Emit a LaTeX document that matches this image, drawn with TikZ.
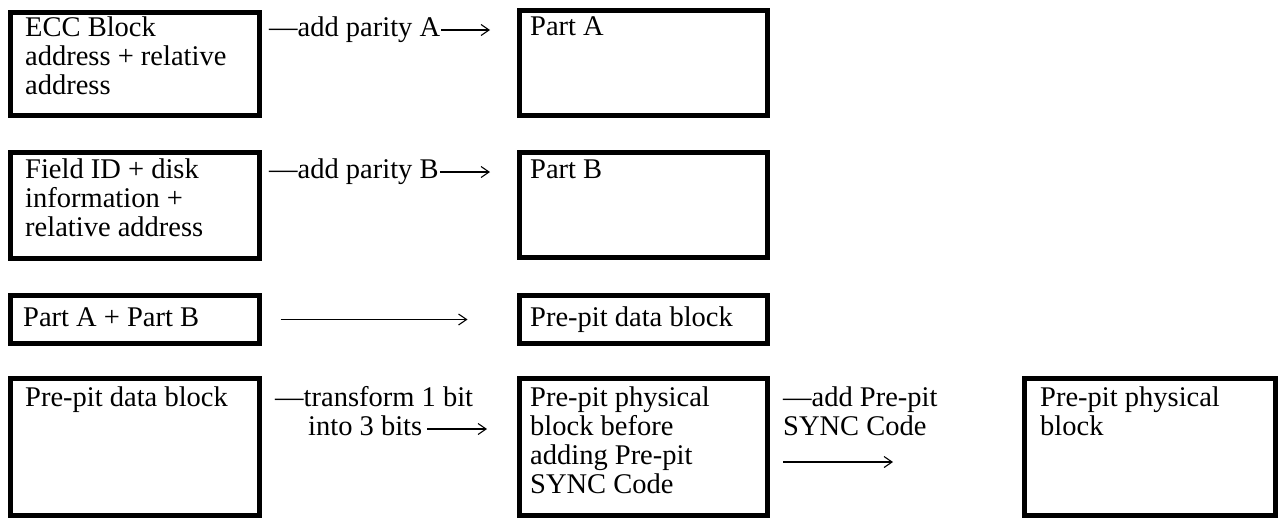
\documentclass[tikz,border=0pt]{standalone}
\usepackage{fontspec}
\setmainfont{Liberation Serif}
\usetikzlibrary{arrows.meta}
\begin{document}
\begin{tikzpicture}[x=1pt,y=-1pt,
  box/.style={draw, line width=5pt, inner sep=0pt},
  txt/.style={anchor=north west, inner sep=0pt, align=left, font=\fontsize{28.5}{29}\selectfont},
  lbl/.style={anchor=base west, inner sep=0pt, align=left, font=\fontsize{28.5}{29}\selectfont},
  arr/.style={-{Straight Barb[length=8pt,width=11pt]}, line width=1.1pt}]
\useasboundingbox (0,0) rectangle (1285,520);

% boxes
\node[box, minimum width=249pt, minimum height=103pt] (a1) at (135,64) {};
\node[box, minimum width=248pt, minimum height=105pt] (a2) at (643.5,63) {};
\node[box, minimum width=249pt, minimum height=106pt] (b1) at (135,205.5) {};
\node[box, minimum width=248pt, minimum height=105pt] (b2) at (643.5,205) {};
\node[box, minimum width=249pt, minimum height=48pt] (c1) at (135,319.5) {};
\node[box, minimum width=248pt, minimum height=48pt] (c2) at (643.5,319.5) {};
\node[box, minimum width=249pt, minimum height=137pt] (d1) at (135,447) {};
\node[box, minimum width=248pt, minimum height=137pt] (d2) at (643.5,447) {};
\node[box, minimum width=251pt, minimum height=137pt] (d3) at (1150,447) {};

% box texts (first baseline = y + 20.3)
\node[txt] (a1t) at (25,15.7) {\strut ECC Block\\address + relative\\address};
\node[txt] (a2t) at (530,14.7) {\strut Part A};
\node[txt] (b1t) at (25,157.7) {\strut Field ID + disk\\information +\\relative address};
\node[txt] (b2t) at (530,157.7) {\strut Part B};
\node[txt] (c1t) at (23,305.7) {\strut Part A + Part B};
\node[txt] (c2t) at (530,305.7) {\strut Pre-pit data block};
\node[txt] (d1t) at (25,385.7) {\strut Pre-pit data block};
\node[txt] (d2t) at (530,385.7) {\strut Pre-pit physical\\block before\\adding Pre-pit\\SYNC Code};
\node[txt] (d3t) at (1040,385.7) {\strut Pre-pit physical\\block};

% connectors
\node[lbl] (la) at (269,36) {—add parity A};
\coordinate (ae) at (490,30);
\draw[arr] ([xshift=1pt]la.base east |- ae) -- (ae);

\node[lbl] (lb) at (269,178) {—add parity B};
\coordinate (be) at (490,172);
\draw[arr] ([xshift=1pt]lb.base east |- be) -- (be);

\draw[arr, shorten <=18.5pt, shorten >=49.5pt] (c1) -- (c2);

\node[lbl] (ld1) at (275,406) {—transform 1 bit};
\node[lbl] (ld2) at (308,435) {into 3 bits};
\coordinate (de) at (487,429);
\draw[arr] ([xshift=5pt]ld2.base east |- de) -- (de);

\node[txt] (le) at (783,385.7) {\strut —add Pre-pit\\SYNC Code};
\coordinate (es) at (783,462);
\coordinate (ee) at (893,462);
\draw[arr] (es) -- (ee);
\end{tikzpicture}
\end{document}
